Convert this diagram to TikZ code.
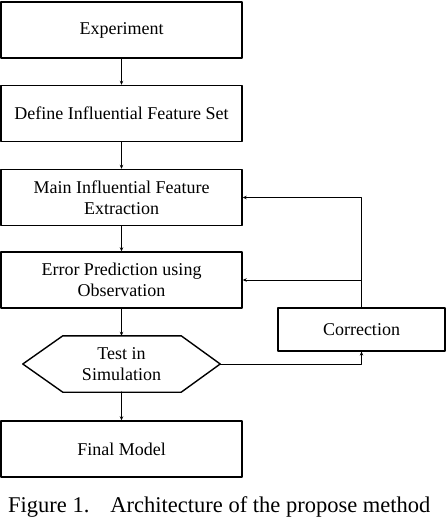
\documentclass[tikz,border=0pt]{standalone}
\usepackage{fontspec}
\setmainfont{Liberation Serif}
\usetikzlibrary{calc,arrows.meta}
\tikzset{
    lab/.style={
        font=\fontsize{18}{21}\selectfont
    }
}

\begin{document}
\begin{tikzpicture}[x=1pt,y=-1pt, line cap=round, line join=round]

\tikzset{
  main/.style={draw=black, line width=1.4pt},
  box/.style={main, minimum width=241pt, minimum height=56pt, inner sep=0pt, align=center, lab},
  hexbox/.style={minimum width=197pt, minimum height=56pt, inner sep=0pt, align=center, lab},
  corrbox/.style={draw=black, line width=1.2pt, minimum width=167pt, minimum height=43pt, inner sep=0pt, lab},
  arr/.style={draw=black, line width=0.9pt, -{Stealth[length=4pt,width=3.5pt]}},
  caplab/.style={font=\fontsize{22.5}{27}\selectfont, inner sep=0pt},
}

\useasboundingbox (0,0) rectangle (446,518);

% main column
\node[box] (exp) at (121.5,30) {Experiment};
\node[box] (def) at (121.5,113.5) {Define Influential Feature Set};
\node[box] (mife) at (121.5,197.5) {Main Influential Feature\\Extraction};
\node[box] (err) at (121.5,280) {Error Prediction using\\Observation};
\node[hexbox] (test) at (121.5,364) {Test in\\Simulation};
\node[box] (final) at (121.5,449) {Final Model};

% correction box on the right
\node[corrbox] (corr) at (361.5,329.5) {Correction};

% hexagon around the test node
\draw[main] (test.west) -- ($(test.north west)+(40,0)$) -- ($(test.north east)+(-39,0)$)
  -- (test.east) -- ($(test.south east)+(-39,0)$) -- ($(test.south west)+(40,0)$) -- cycle;

% arrows down the column
\draw[arr] (exp) -- (def);
\draw[arr] (def) -- (mife);
\draw[arr] (mife) -- (err);
\draw[arr] (err) -- (test);
\draw[arr, line width=1.8pt] (test) -- (final);

% feedback loop
\draw[arr] (test.east) -| (corr.south);
\draw[arr] (corr.north) |- (err.east);
\draw[arr] (corr.north) |- (mife.east);

% caption
\node[caplab, anchor=base west] (caption) at (8,512) {Figure 1.\hspace{21pt}Architecture of the propose method};

\end{tikzpicture}
\end{document}
